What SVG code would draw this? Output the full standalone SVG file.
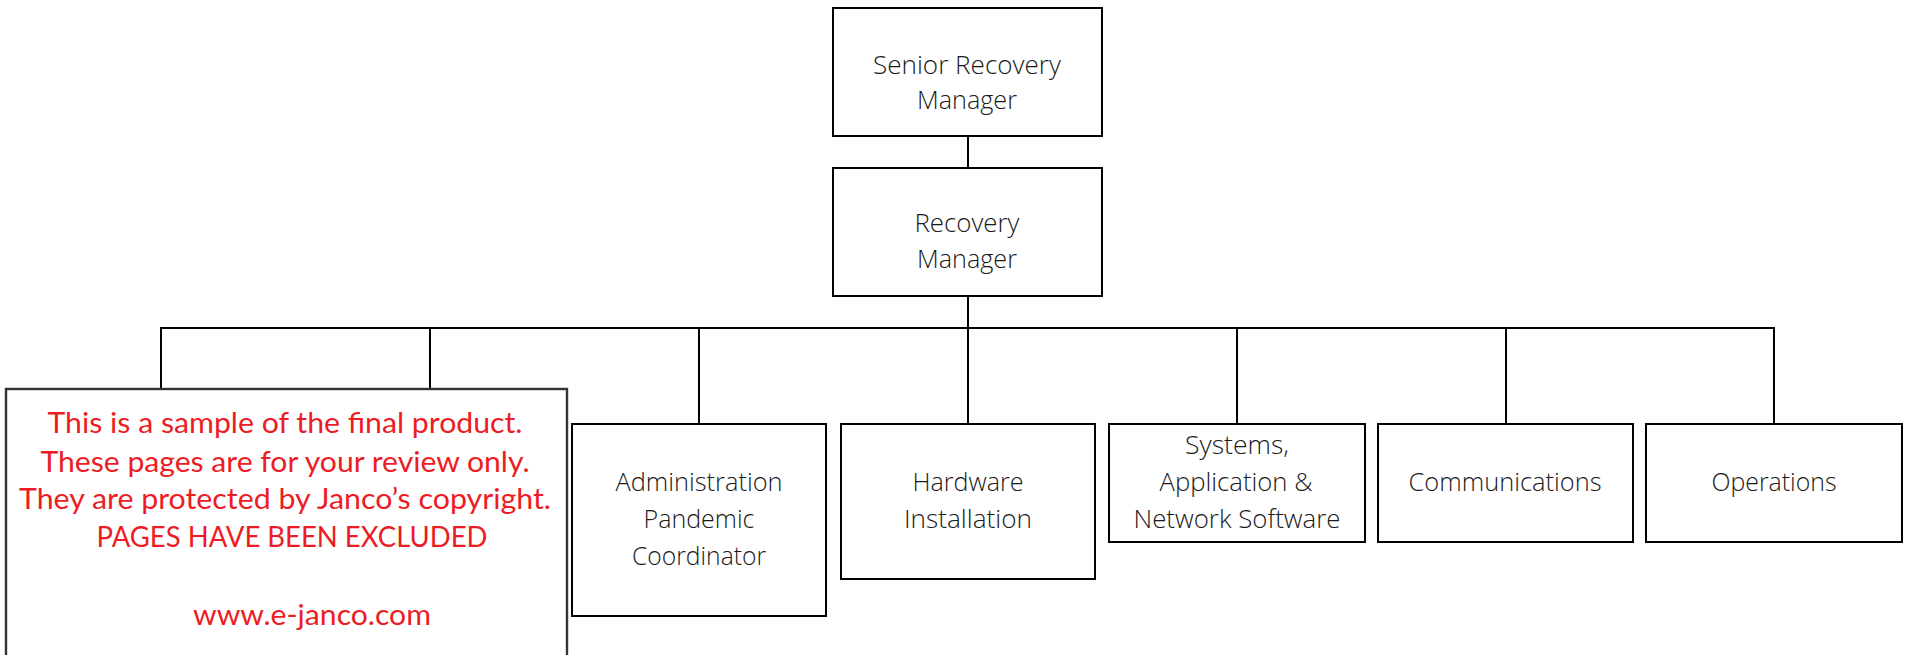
<svg xmlns="http://www.w3.org/2000/svg" width="1906" height="655" viewBox="0 0 1906 655">
<style>
.box{fill:#fff;stroke:#000;stroke-width:2}
.lbl{font-family:"Open Sans","Noto Sans","Liberation Sans",sans-serif;font-weight:300;font-size:25px;fill:#1a1a1a;text-anchor:middle}
.wm{font-family:Lato,"Open Sans","Liberation Sans",sans-serif;font-size:29px;fill:#ED1C24;text-anchor:middle}
.conn{fill:none;stroke:#000;stroke-width:2}
</style>
<rect width="1906" height="655" fill="#fff"/>
<g id="connectors" class="conn">
<line x1="968" y1="136" x2="968" y2="168"/>
<line x1="968" y1="296" x2="968" y2="328"/>
<line x1="160" y1="328" x2="1775" y2="328"/>
<line x1="161" y1="328" x2="161" y2="390"/>
<line x1="430" y1="328" x2="430" y2="390"/>
<line x1="699" y1="328" x2="699" y2="424"/>
<line x1="968" y1="328" x2="968" y2="424"/>
<line x1="1237" y1="328" x2="1237" y2="424"/>
<line x1="1506" y1="328" x2="1506" y2="424"/>
<line x1="1774" y1="328" x2="1774" y2="424"/>
</g>
<g id="senior-recovery-manager">
<rect class="box" x="833" y="8" width="269" height="128"/>
<text class="lbl" x="967" y="74" textLength="188" lengthAdjust="spacingAndGlyphs">Senior Recovery</text>
<text class="lbl" x="967" y="109" textLength="100" lengthAdjust="spacingAndGlyphs">Manager</text>
</g>
<g id="recovery-manager">
<rect class="box" x="833" y="168" width="269" height="128"/>
<text class="lbl" x="967" y="232" textLength="105" lengthAdjust="spacingAndGlyphs">Recovery</text>
<text class="lbl" x="967" y="268" textLength="100" lengthAdjust="spacingAndGlyphs">Manager</text>
</g>
<g id="administration">
<rect class="box" x="572" y="424" width="254" height="192"/>
<text class="lbl" x="699" y="491" textLength="167" lengthAdjust="spacingAndGlyphs">Administration</text>
<text class="lbl" x="699" y="528" textLength="111" lengthAdjust="spacingAndGlyphs">Pandemic</text>
<text class="lbl" x="699" y="565" textLength="134" lengthAdjust="spacingAndGlyphs">Coordinator</text>
</g>
<g id="hardware">
<rect class="box" x="841" y="424" width="254" height="155"/>
<text class="lbl" x="968" y="491" textLength="111" lengthAdjust="spacingAndGlyphs">Hardware</text>
<text class="lbl" x="968" y="528" textLength="128" lengthAdjust="spacingAndGlyphs">Installation</text>
</g>
<g id="systems">
<rect class="box" x="1109" y="424" width="256" height="118"/>
<text class="lbl" x="1237" y="454" textLength="104" lengthAdjust="spacingAndGlyphs">Systems,</text>
<text class="lbl" x="1236" y="491" textLength="153" lengthAdjust="spacingAndGlyphs">Application &amp;</text>
<text class="lbl" x="1237" y="528" textLength="207" lengthAdjust="spacingAndGlyphs">Network Software</text>
</g>
<g id="communications">
<rect class="box" x="1378" y="424" width="255" height="118"/>
<text class="lbl" x="1505" y="491" textLength="193" lengthAdjust="spacingAndGlyphs">Communications</text>
</g>
<g id="operations">
<rect class="box" x="1646" y="424" width="256" height="118"/>
<text class="lbl" x="1774" y="491" textLength="125" lengthAdjust="spacingAndGlyphs">Operations</text>
</g>
<g id="watermark">
<rect x="6" y="389" width="561" height="320" fill="#fff" stroke="#333" stroke-width="2.4"/>
<text class="wm" x="285" y="433" textLength="475" lengthAdjust="spacingAndGlyphs">This is a sample of the final product.</text>
<text class="wm" x="285" y="472" textLength="489" lengthAdjust="spacingAndGlyphs">These pages are for your review only.</text>
<text class="wm" x="285" y="509" textLength="532" lengthAdjust="spacingAndGlyphs">They are protected by Janco’s copyright.</text>
<text class="wm" x="292" y="547" textLength="391" lengthAdjust="spacingAndGlyphs">PAGES HAVE BEEN EXCLUDED</text>
<text class="wm" x="312" y="625" textLength="238" lengthAdjust="spacingAndGlyphs">www.e-janco.com</text>
</g>
</svg>
